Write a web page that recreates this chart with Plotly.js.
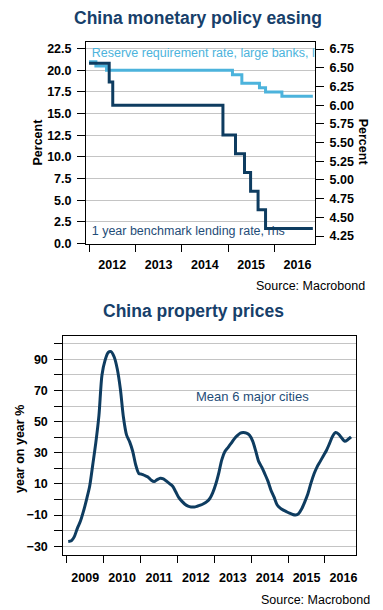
<!DOCTYPE html>
<html><head><meta charset="utf-8">
<script src="https://cdn.plot.ly/plotly-3.0.1.min.js"></script>
<style>html,body{margin:0;padding:0;background:#fff}#chart{width:383px;height:610px}</style>
</head><body><div id="chart"></div>
<script>
// ---- Top chart: China monetary policy easing ----
const rrrDates = ['2012-01-01','2012-02-24','2012-05-18','2015-02-05','2015-04-20','2015-09-06','2015-10-24','2016-03-01','2016-10-31'];
const rrrValues = [21.0, 20.5, 20.0, 19.5, 18.5, 18.0, 17.5, 17.0, 17.0];
const lendDates = ['2012-01-01','2012-06-08','2012-07-06','2014-11-22','2015-03-01','2015-05-11','2015-06-28','2015-08-26','2015-10-24','2016-10-31'];
const lendValues = [6.56, 6.31, 6.00, 5.60, 5.35, 5.10, 4.85, 4.60, 4.35, 4.35];

// ---- Bottom chart: China property prices, mean 6 major cities, y/y % (monthly) ----
const propYears = [2009, 2010, 2011, 2012, 2013, 2014, 2015, 2016];
const prop2009 = [-27, -26.5, -24, -18.5, -14, -7.5, 0, 8.5, 22.5, 36.5, 54, 80];
const prop2010 = [89.5, 94.5, 95, 91.5, 84, 71, 53, 41.5, 37, 31, 22, 16.7];
const prop2011 = [16.2, 15.3, 14.5, 12.5, 11.5, 12.8, 13.7, 13.3, 11.8, 10.2, 8.5, 5];
const prop2012 = [1.2, -1.2, -3, -4.3, -4.8, -4.8, -4.3, -3.6, -2.7, -1.5, 0.5, 4.3];
const prop2013 = [10, 17.5, 25.5, 30.8, 33.3, 36, 38.8, 41, 42.7, 43, 42.6, 41.2];
const prop2014 = [37.5, 31, 24.5, 20.8, 16.5, 11.8, 6, 1.5, -3.5, -5.5, -6.8, -7.8];
const prop2015 = [-8.8, -9.6, -9.9, -9, -6, -1.5, 3.5, 10.5, 16.5, 21, 24.5, 28];
const prop2016 = [31.5, 36, 40.5, 43, 42, 39.5, 37.4, 38.5, 40.2];
const propByYear = [prop2009, prop2010, prop2011, prop2012, prop2013, prop2014, prop2015, prop2016];

const propDates = [], propValues = [];
propByYear.forEach((vals, i) => {
  vals.forEach((v, m) => {
    propDates.push(propYears[i] + '-' + String(m + 1).padStart(2, '0') + '-15');
    propValues.push(v);
  });
});

const NAVY = '#0e3c60';
const LIGHT = '#4cb3dc';
const TITLE = '#17406a';
const GRID = '#c4c4c4';
const FONT = 'Liberation Sans, Arial, sans-serif';
const tickFont = {family: FONT, size: 12.5, color: '#000', weight: 'bold'};

const traces = [
  {x: ['2012-01-22'], y: [21.88], xaxis: 'x', yaxis: 'y', mode: 'text', cliponaxis: true,
   text: ['Reserve requirement rate, large banks, lhs'], textposition: 'middle right',
   textfont: {family: FONT, size: 12.5, color: LIGHT}, hoverinfo: 'skip'},
  {x: ['2012-01-22'], y: [1.36], xaxis: 'x', yaxis: 'y', mode: 'text', cliponaxis: true,
   text: ['1 year benchmark lending rate, rhs'], textposition: 'middle right',
   textfont: {family: FONT, size: 12.5, color: '#1f4d78'}, hoverinfo: 'skip'},
  {x: rrrDates, y: rrrValues, xaxis: 'x', yaxis: 'y', mode: 'lines',
   line: {shape: 'hv', color: LIGHT, width: 3}},
  {x: lendDates, y: lendValues, xaxis: 'x', yaxis: 'y2', mode: 'lines',
   line: {shape: 'hv', color: NAVY, width: 3}},
  {x: propDates, y: propValues, xaxis: 'x2', yaxis: 'y3', mode: 'lines',
   line: {shape: 'spline', smoothing: 0.8, color: NAVY, width: 3}}
];

const layout = {
  width: 383, height: 610,
  margin: {l: 0, r: 0, t: 0, b: 0},
  paper_bgcolor: '#fff', plot_bgcolor: '#fff',
  showlegend: false,
  font: {family: FONT, size: 12.5, color: '#000'},
  xaxis: {
    domain: [86/383, 315/383], anchor: 'y', type: 'date',
    range: ['2011-12-08', '2016-11-17'],
    dtick: 'M12', tick0: '2000-01-01', tickformat: '%Y', ticklabelmode: 'period',
    ticks: 'outside', ticklen: 7, tickcolor: '#000', tickwidth: 1,
    showline: true, linecolor: '#000', linewidth: 1, mirror: true,
    showgrid: false, zeroline: false, tickfont: tickFont, ticklabelstandoff: 2
  },
  yaxis: {
    domain: [1 - 243.5/610, 1 - 42/610], anchor: 'x',
    range: [0, 23.27], dtick: 2.5, tick0: 0, tickformat: '.1f',
    ticks: 'outside', ticklen: 8, tickcolor: '#000',
    showline: true, linecolor: '#000', linewidth: 1, mirror: true,
    showgrid: true, gridcolor: GRID, gridwidth: 1, zeroline: false,
    tickfont: tickFont, ticklabelstandoff: 3
  },
  yaxis2: {
    overlaying: 'y', side: 'right', anchor: 'x',
    range: [4.15, 6.844], dtick: 0.25, tick0: 4.25, tickformat: '.2f',
    ticks: 'outside', ticklen: 8, tickcolor: '#000',
    showline: true, linecolor: '#000', showgrid: false, zeroline: false,
    tickfont: tickFont, ticklabelstandoff: 3
  },
  xaxis2: {
    domain: [63.3/383, 356/383], anchor: 'y3', type: 'date',
    range: ['2008-11-27', '2016-11-03'],
    dtick: 'M12', tick0: '2000-01-01', tickformat: '%Y', ticklabelmode: 'period',
    ticks: 'outside', ticklen: 7, tickcolor: '#000', tickwidth: 1,
    showline: true, linecolor: '#000', linewidth: 1, mirror: true,
    showgrid: false, zeroline: false, tickfont: tickFont, ticklabelstandoff: 4
  },
  yaxis3: {
    domain: [1 - 554.5/610, 1 - 336/610], anchor: 'x2',
    range: [-35.3, 105], dtick: 20, tick0: -30,
    ticks: 'outside', ticklen: 8, tickcolor: '#000',
    showline: true, linecolor: '#000', linewidth: 1, mirror: true,
    showgrid: true, gridcolor: GRID, gridwidth: 1, zeroline: false,
    minor: {dtick: 10, tick0: -30, ticks: 'outside', ticklen: 8, tickcolor: '#000', showgrid: true, gridcolor: GRID, gridwidth: 1},
    tickfont: tickFont, ticklabelstandoff: 4
  },
  annotations: [
    {text: 'China monetary policy easing', xref: 'paper', yref: 'paper', x: 198/383, y: 1 - 18.5/610,
     xanchor: 'center', yanchor: 'middle', showarrow: false,
     font: {family: FONT, size: 17.5, color: TITLE, weight: 'bold'}},
    {text: 'Percent', xref: 'paper', yref: 'paper', x: 37.5/383, y: 1 - 142/610, textangle: -90,
     xanchor: 'center', yanchor: 'middle', showarrow: false,
     font: {family: FONT, size: 12.5, color: '#000', weight: 'bold'}},
    {text: 'Percent', xref: 'paper', yref: 'paper', x: 363.3/383, y: 1 - 142/610, textangle: 90,
     xanchor: 'center', yanchor: 'middle', showarrow: false,
     font: {family: FONT, size: 12.5, color: '#000', weight: 'bold'}},
    {text: 'Source: Macrobond', xref: 'paper', yref: 'paper', x: 367/383, y: 1 - 286/610,
     xanchor: 'right', yanchor: 'middle', showarrow: false,
     font: {family: FONT, size: 12.5, color: '#000'}},
    {text: 'China property prices', xref: 'paper', yref: 'paper', x: 193.3/383, y: 1 - 310.5/610,
     xanchor: 'center', yanchor: 'middle', showarrow: false,
     font: {family: FONT, size: 17.5, color: TITLE, weight: 'bold'}},
    {text: 'year on year %', xref: 'paper', yref: 'paper', x: 20/383, y: 1 - 449/610, textangle: -90,
     xanchor: 'center', yanchor: 'middle', showarrow: false,
     font: {family: FONT, size: 12.5, color: '#000', weight: 'bold'}},
    {text: 'Mean 6 major cities', xref: 'paper', yref: 'paper', x: 252.7/383, y: 1 - 396/610,
     xanchor: 'center', yanchor: 'middle', showarrow: false,
     font: {family: FONT, size: 13, color: '#1f4d78'}},
    {text: 'Source: Macrobond', xref: 'paper', yref: 'paper', x: 371.7/383, y: 1 - 600/610,
     xanchor: 'right', yanchor: 'middle', showarrow: false,
     font: {family: FONT, size: 12.5, color: '#000'}}
  ]
};

Plotly.newPlot('chart', traces, layout, {displayModeBar: false, staticPlot: true});
</script>
</body></html>
